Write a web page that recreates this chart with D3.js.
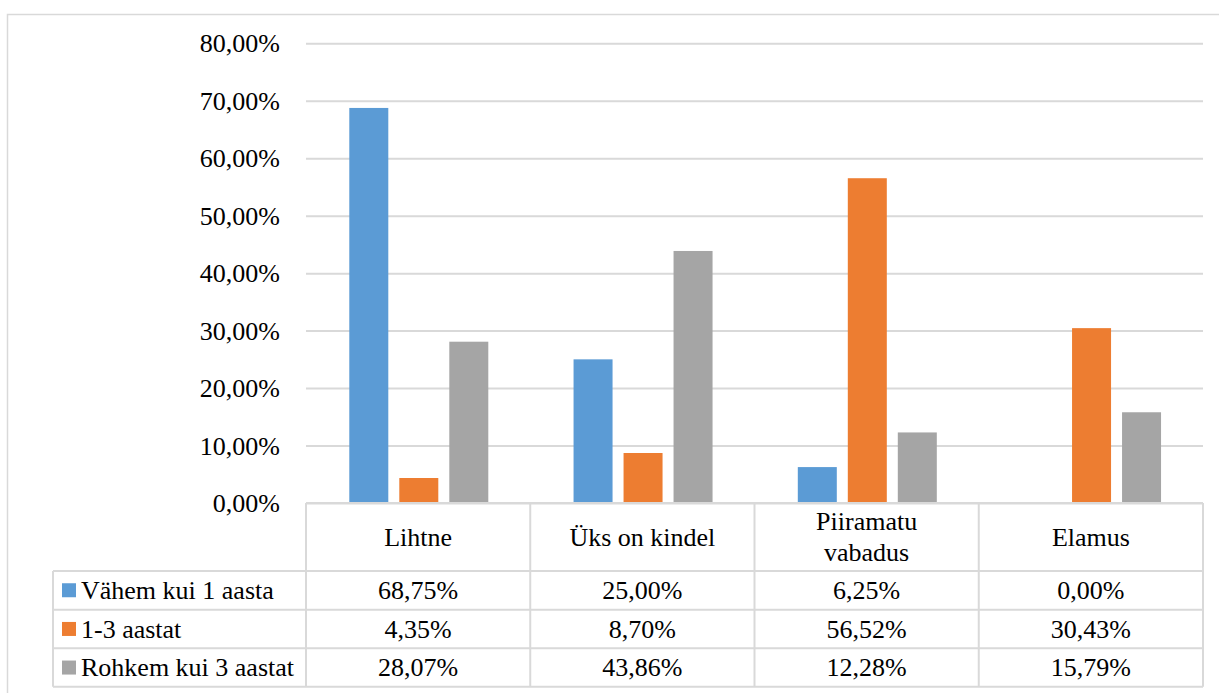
<!DOCTYPE html>
<html>
<head>
<meta charset="utf-8">
<script src="https://cdn.jsdelivr.net/npm/d3@7/dist/d3.min.js"></script>
<style>
  html, body { margin: 0; padding: 0; background: #fff; }
  svg { display: block; }
  text { font-family: 'Liberation Serif', 'Times New Roman', serif; fill: #000; }
</style>
</head>
<body>
<svg id="chart" width="1219" height="693"></svg>
<script>
// Categories, series and values
const categories = ["Lihtne", "Üks on kindel", "Piiramatu vabadus", "Elamus"];
const categoryLines = [["Lihtne"], ["Üks on kindel"], ["Piiramatu", "vabadus"], ["Elamus"]];
const seriesNames = ["Vähem kui 1 aasta", "1-3 aastat", "Rohkem kui 3 aastat"];
const seriesColors = ["#5B9BD5", "#ED7D31", "#A5A5A5"];
const vahemKui1 = [0.6875, 0.2500, 0.0625, 0.0000];
const aastat13 = [0.0435, 0.0870, 0.5652, 0.3043];
const rohkemKui3 = [0.2807, 0.4386, 0.1228, 0.1579];
const yTicks = [0, 0.1, 0.2, 0.3, 0.4, 0.5, 0.6, 0.7, 0.8];

const seriesValues = [vahemKui1, aastat13, rohkemKui3];

const svg = d3.select("#chart");
const gridColor = "#D9D9D9";
const fontFamily = "'Liberation Serif', 'Times New Roman', serif";
const fontSize = 26;

// Estonian number format: comma as decimal separator
const locale = d3.formatLocale({ decimal: ",", thousands: " ", grouping: [3], currency: ["", "€"] });
const pct = locale.format(".2%");

// Outer chart frame
svg.append("rect")
  .attr("x", 7.5).attr("y", 14.5)
  .attr("width", 1220).attr("height", 690)
  .attr("fill", "none").attr("stroke", gridColor).attr("stroke-width", 1.5);

const plotLeft = 306, plotRight = 1203, plotTop = 43.3, plotBottom = 503;

const x = d3.scaleBand().domain(categories).range([plotLeft, plotRight]).padding(0);
const xs = d3.scaleBand().domain(seriesNames).range([43.3, 182.3]).paddingInner(0.22);
const y = d3.scaleLinear().domain([0, 0.8]).range([plotBottom, plotTop]);

// Gridlines and value axis
const yAxis = d3.axisLeft(y)
  .tickValues(yTicks)
  .tickSize(-(plotRight - plotLeft))
  .tickPadding(26)
  .tickFormat(pct);

const gy = svg.append("g")
  .attr("transform", `translate(${plotLeft},0)`)
  .call(yAxis)
  .attr("font-family", fontFamily)
  .attr("font-size", fontSize);
gy.select(".domain").remove();
gy.selectAll(".tick line").attr("stroke", gridColor).attr("stroke-width", 2);
gy.selectAll(".tick text")
  .attr("font-family", fontFamily)
  .attr("font-size", fontSize)
  .attr("fill", "#000")
  .attr("dy", "0.33em");

// Bars
seriesNames.forEach((s, si) => {
  svg.append("g").selectAll("rect")
    .data(categories.map((c, ci) => ({ c, v: seriesValues[si][ci] })))
    .join("rect")
    .attr("x", d => x(d.c) + xs(s))
    .attr("width", xs.bandwidth())
    .attr("y", d => y(d.v))
    .attr("height", d => y(0) - y(d.v))
    .attr("fill", seriesColors[si]);
});

// Data table
const tableLeft = 53;
const headerTop = plotBottom;
const rowTops = [571, 609.7, 648.3];
const rowH = 38.5;
const tableBottom = rowTops[2] + rowH;
const table = svg.append("g")
  .attr("font-family", fontFamily)
  .attr("font-size", fontSize);

// Horizontal rules
table.append("line")
  .attr("x1", plotLeft).attr("x2", plotRight)
  .attr("y1", headerTop).attr("y2", headerTop);
rowTops.concat([tableBottom]).forEach(ry => {
  table.append("line")
    .attr("x1", tableLeft).attr("x2", plotRight)
    .attr("y1", ry).attr("y2", ry);
});
// Vertical rules
table.append("line")
  .attr("x1", tableLeft).attr("x2", tableLeft)
  .attr("y1", rowTops[0]).attr("y2", tableBottom);
categories.forEach(c => {
  table.append("line")
    .attr("x1", x(c)).attr("x2", x(c))
    .attr("y1", headerTop).attr("y2", tableBottom);
});
table.append("line")
  .attr("x1", plotRight).attr("x2", plotRight)
  .attr("y1", headerTop).attr("y2", tableBottom);
table.selectAll("line").attr("stroke", gridColor).attr("stroke-width", 2);

// Category header labels
categories.forEach((c, ci) => {
  const lines = categoryLines[ci];
  const cx = x(c) + x.bandwidth() / 2;
  const mid = (headerTop + rowTops[0]) / 2;
  const lh = 31;
  lines.forEach((ln, li) => {
    table.append("text")
      .attr("x", cx)
      .attr("y", mid + (li - (lines.length - 1) / 2) * lh)
      .attr("dy", "0.33em")
      .attr("text-anchor", "middle")
      .attr("font-family", fontFamily)
      .attr("font-size", fontSize)
      .text(ln);
  });
});

// Legend keys and value cells
seriesNames.forEach((s, si) => {
  const cy = rowTops[si] + rowH / 2;
  table.append("rect")
    .attr("x", 62).attr("y", cy - 7)
    .attr("width", 14).attr("height", 14)
    .attr("fill", seriesColors[si]);
  table.append("text")
    .attr("x", 81)
    .attr("y", cy)
    .attr("dy", "0.33em")
    .attr("font-family", fontFamily)
    .attr("font-size", fontSize)
    .text(s);
  categories.forEach((c, ci) => {
    table.append("text")
      .attr("x", x(c) + x.bandwidth() / 2)
      .attr("y", cy)
      .attr("dy", "0.33em")
      .attr("text-anchor", "middle")
      .attr("font-family", fontFamily)
      .attr("font-size", fontSize)
      .text(pct(seriesValues[si][ci]));
  });
});
</script>
</body>
</html>
